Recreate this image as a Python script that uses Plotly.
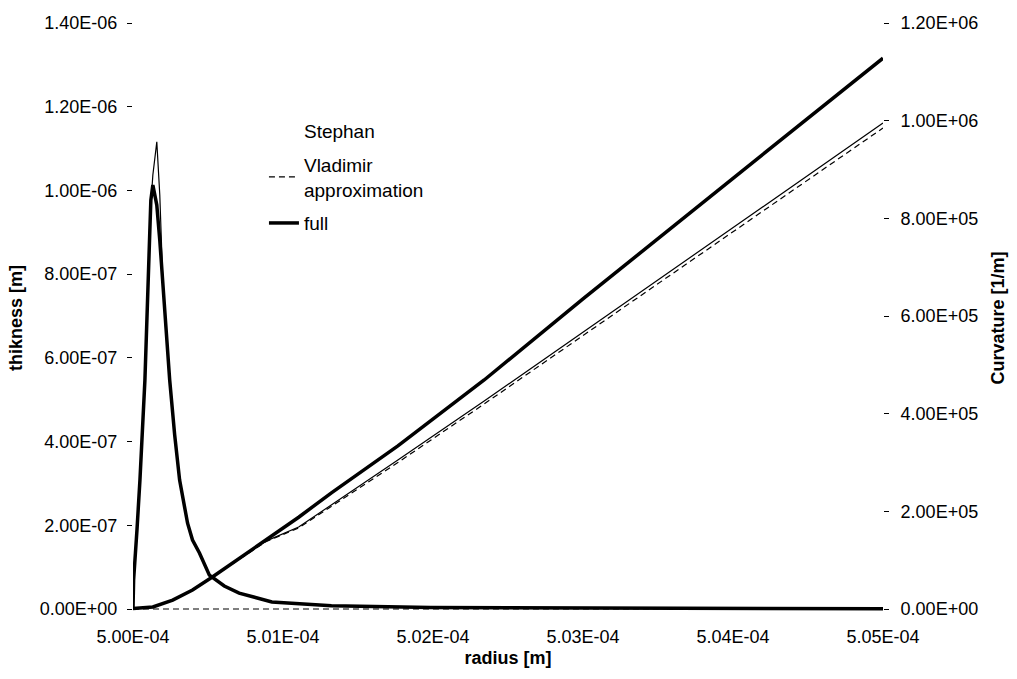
import plotly.graph_objects as go

# ---- thickness profiles (left axis, metres) ----
radius_thick = [5.00000e-4, 5.000040e-4, 5.000265e-4, 5.000463e-4, 5.000794e-4,
                5.000992e-4, 5.001190e-4, 5.001323e-4, 5.001587e-4, 5.001786e-4,
                5.001984e-4, 5.002183e-4, 5.002447e-4, 5.002778e-4, 5.003108e-4,
                5.003638e-4, 5.003968e-4, 5.004431e-4, 5.005093e-4, 5.006085e-4,
                5.007077e-4, 5.009259e-4, 5.013228e-4, 5.019841e-4, 5.030886e-4,
                5.050000e-4]
thick_full = [0.0, 0.069e-6, 0.189e-6, 0.308e-6, 0.547e-6,
              0.786e-6, 0.977e-6, 1.013e-6, 0.965e-6, 0.881e-6,
              0.786e-6, 0.667e-6, 0.547e-6, 0.416e-6, 0.308e-6,
              0.205e-6, 0.165e-6, 0.134e-6, 0.081e-6, 0.055e-6,
              0.038e-6, 0.017e-6, 0.008e-6, 0.0036e-6, 0.0017e-6,
              0.0005e-6]

radius_stephan_thick = [5.00000e-4, 5.000040e-4, 5.000265e-4, 5.000463e-4, 5.000794e-4,
                        5.000992e-4, 5.001124e-4, 5.001323e-4, 5.001587e-4, 5.001786e-4,
                        5.001984e-4, 5.002183e-4, 5.002447e-4, 5.002778e-4, 5.003108e-4,
                        5.003638e-4, 5.003968e-4, 5.004431e-4, 5.005093e-4, 5.006085e-4,
                        5.007077e-4, 5.009259e-4, 5.013228e-4, 5.019841e-4, 5.030886e-4,
                        5.050000e-4]
thick_stephan = [0.0, 0.069e-6, 0.189e-6, 0.308e-6, 0.547e-6,
                 0.786e-6, 0.930e-6, 1.037e-6, 1.116e-6, 0.989e-6,
                 0.786e-6, 0.667e-6, 0.547e-6, 0.416e-6, 0.308e-6,
                 0.205e-6, 0.165e-6, 0.134e-6, 0.081e-6, 0.055e-6,
                 0.038e-6, 0.017e-6, 0.008e-6, 0.0036e-6, 0.0017e-6,
                 0.0005e-6]

radius_vlad_thick = [5.00e-4, 5.01e-4, 5.02e-4, 5.03e-4, 5.04e-4, 5.05e-4]
thick_vladimir = [0.0, 0.0, 0.0, 0.0, 0.0, 0.0]

# ---- curvature (right axis, 1/m) ----
radius_curv = [5.00000e-4, 5.001323e-4, 5.002646e-4, 5.003968e-4, 5.005291e-4,
               5.007077e-4, 5.008862e-4, 5.011045e-4, 5.013228e-4, 5.017659e-4,
               5.023413e-4, 5.030000e-4, 5.040000e-4, 5.050000e-4]
curv_full = [1.0e3, 4.1e3, 1.84e4, 3.9e4, 6.55e4,
             1.04e5, 1.41e5, 1.88e5, 2.38e5, 3.34e5,
             4.69e5, 6.35e5, 8.82e5, 1.128e6]
curv_stephan = [1.0e3, 4.1e3, 1.84e4, 3.9e4, 6.55e4,
                1.02e5, 1.39e5, 1.68e5, 2.13e5, 3.05e5,
                4.26e5, 5.67e5, 7.80e5, 9.95e5]
curv_vladimir = [1.0e3, 4.1e3, 1.84e4, 3.9e4, 6.5e4,
                 1.01e5, 1.38e5, 1.66e5, 2.10e5, 3.00e5,
                 4.20e5, 5.60e5, 7.72e5, 9.85e5]

# ---- axis ticks ----
x_ticks = [round(5.00e-4 + i * 1e-6, 10) for i in range(6)]
y_left_ticks = [round(i * 2e-7, 12) for i in range(8)]
y_right_ticks = [i * 2e5 for i in range(7)]

FONT = "Arial, Liberation Sans, sans-serif"
BLACK = "#000000"

fig = go.Figure()

# legend entry for Stephan (the curves themselves are added below without legend)
fig.add_trace(go.Scatter(x=[None], y=[None], mode="lines", name="Stephan",
                         legendgroup="stephan",
                         line=dict(color="rgba(0,0,0,0)", width=1)))
fig.add_trace(go.Scatter(x=radius_vlad_thick, y=thick_vladimir, mode="lines",
                         name="Vladimir<br>approximation", legendgroup="vladimir",
                         line=dict(color=BLACK, width=1.2, dash="6px,4px")))
fig.add_trace(go.Scatter(x=radius_thick, y=thick_full, mode="lines", name="full",
                         legendgroup="full",
                         line=dict(color=BLACK, width=3.5)))
fig.add_trace(go.Scatter(x=radius_stephan_thick, y=thick_stephan, mode="lines",
                         legendgroup="stephan", showlegend=False,
                         line=dict(color=BLACK, width=1.2)))

fig.add_trace(go.Scatter(x=radius_curv, y=curv_stephan, mode="lines", yaxis="y2",
                         legendgroup="stephan", showlegend=False,
                         line=dict(color=BLACK, width=1.2)))
fig.add_trace(go.Scatter(x=radius_curv, y=curv_vladimir, mode="lines", yaxis="y2",
                         legendgroup="vladimir", showlegend=False,
                         line=dict(color=BLACK, width=1.2, dash="6px,4px")))
fig.add_trace(go.Scatter(x=radius_curv, y=curv_full, mode="lines", yaxis="y2",
                         legendgroup="full", showlegend=False,
                         line=dict(color=BLACK, width=3.5)))

pad = 0.0095 / 1.4

fig.update_layout(
    width=1017, height=679,
    margin=dict(l=133, r=128, t=23, b=66),
    paper_bgcolor="white", plot_bgcolor="white",
    font=dict(family=FONT, size=18, color=BLACK),
    showlegend=True,
    legend=dict(x=(265 - 133) / 756, y=(613 - 112) / 590, xanchor="left", yanchor="top",
                bgcolor="rgba(0,0,0,0)", font=dict(size=19),
                traceorder="grouped", tracegroupgap=6),
    xaxis=dict(range=[5.00e-4, 5.05e-4], tickvals=x_ticks,
               ticktext=[f"{v:.2E}" for v in x_ticks],
               showgrid=False, zeroline=False, showline=False, ticks="",
               ticklabelstandoff=11,
               title=dict(text="<b>radius [m]</b>", standoff=5,
                          font=dict(size=18))),
    yaxis=dict(range=[-1.4e-6 * pad, 1.4e-6], tickvals=y_left_ticks,
               ticktext=[f"{v:.2E}" for v in y_left_ticks],
               showgrid=False, zeroline=False, showline=False,
               ticks="outside", ticklen=5, tickwidth=1, tickcolor=BLACK,
               ticklabelstandoff=6,
               title=dict(text="<b>thikness [m]</b>", standoff=12,
                          font=dict(size=18))),
    yaxis2=dict(range=[-1.2e6 * pad, 1.2e6], overlaying="y", side="right",
                tickvals=y_right_ticks,
                ticktext=[f"{v:.2E}" for v in y_right_ticks],
                showgrid=False, zeroline=False, showline=False,
                ticks="outside", ticklen=5, tickwidth=1, tickcolor=BLACK,
                ticklabelstandoff=8,
                title=dict(text="<b>Curvature [1/m]</b>", standoff=14,
                           font=dict(size=18))),
)

fig.write_html("out.html")
